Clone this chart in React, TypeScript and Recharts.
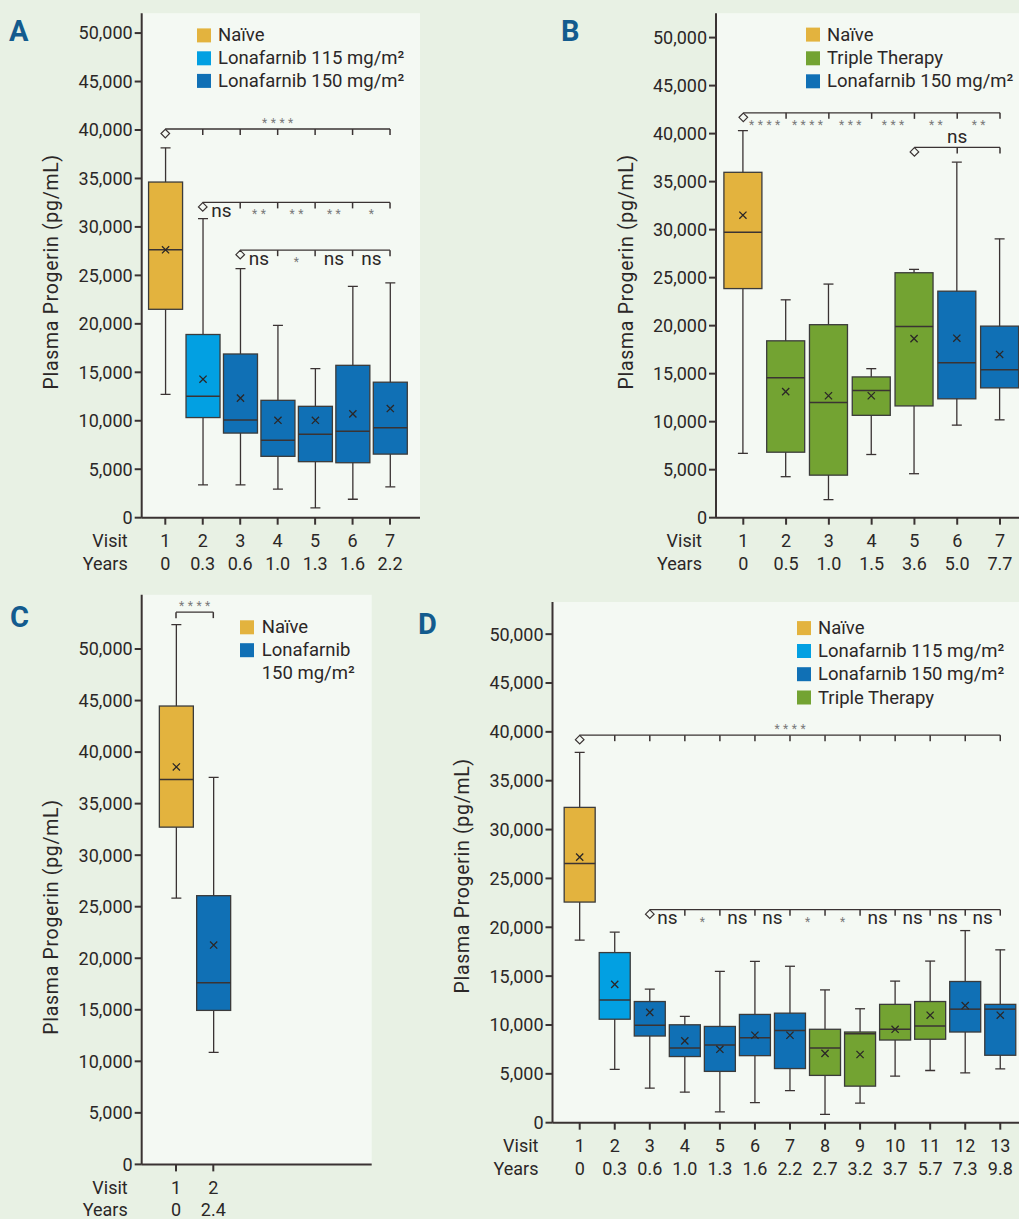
import React from 'react';
import { ComposedChart, Bar, XAxis, YAxis, CartesianGrid, ReferenceLine, ReferenceDot } from 'recharts';

const INK = '#2b2727';
const AXIS = '#3a3333';
const STAR = '#7a7a7a';
const OUTER_BG = '#e8f1e4';
const PLOT_BG = '#f4f9f3';
const LETTER = '#135b8e';
const FONT = 'Roboto, "DejaVu Sans", sans-serif';

type Group = 'naive' | 'l115' | 'l150' | 'triple';

const GROUP_COLORS: Record<Group, string> = {
  naive: '#e3b33e',
  l115: '#02a0e2',
  l150: '#1070b5',
  triple: '#73a332',
};
const GROUP_LABELS: Record<Group, string> = {
  naive: 'Naïve',
  l115: 'Lonafarnib 115 mg/m²',
  l150: 'Lonafarnib 150 mg/m²',
  triple: 'Triple Therapy',
};

const Y_TICKS = [0, 5000, 10000, 15000, 20000, 25000, 30000, 35000, 40000, 45000, 50000];
const Y_LABEL = 'Plasma Progerin (pg/mL)';

// ---------- Panel A ----------
const aVisits = [1, 2, 3, 4, 5, 6, 7];
const aYears = ['0', '0.3', '0.6', '1.0', '1.3', '1.6', '2.2'];
const aGroups: Group[] = ['naive', 'l115', 'l150', 'l150', 'l150', 'l150', 'l150'];
const aMin = [12730, 3380, 3380, 2950, 1010, 1900, 3180];
const aQ1 = [21500, 10330, 8730, 6330, 5780, 5670, 6560];
const aMedian = [27640, 12540, 10090, 8000, 8620, 8930, 9280];
const aQ3 = [34630, 18900, 16890, 12110, 11490, 15720, 13980];
const aMax = [38160, 30860, 25700, 19840, 15370, 23870, 24220];
const aMean = [27640, 14290, 12340, 10050, 10050, 10710, 11260];
const aLegend: Group[] = ['naive', 'l115', 'l150'];
const aBrackets = [
  { from: 1, to: 7, level: 40100, diamond: true, labels: [{ at: 4, text: '****', above: true }] },
  {
    from: 2, to: 7, level: 32530, diamond: true,
    labels: [
      { at: 2.5, text: 'ns', above: false }, { at: 3.5, text: '**', above: false },
      { at: 4.5, text: '**', above: false }, { at: 5.5, text: '**', above: false },
      { at: 6.5, text: '*', above: false },
    ],
  },
  {
    from: 3, to: 7, level: 27600, diamond: true,
    labels: [
      { at: 3.5, text: 'ns', above: false }, { at: 4.5, text: '*', above: false },
      { at: 5.5, text: 'ns', above: false }, { at: 6.5, text: 'ns', above: false },
    ],
  },
];

// ---------- Panel B ----------
const bVisits = [1, 2, 3, 4, 5, 6, 7];
const bYears = ['0', '0.5', '1.0', '1.5', '3.6', '5.0', '7.7'];
const bGroups: Group[] = ['naive', 'triple', 'triple', 'triple', 'triple', 'l150', 'l150'];
const bMin = [6700, 4270, 1880, 6580, 4580, 9640, 10190];
const bQ1 = [23860, 6820, 4430, 10660, 11640, 12380, 13520];
const bMedian = [29740, 14580, 11990, 13240, 19910, 16140, 15400];
const bQ3 = [35970, 18420, 20100, 14660, 25510, 23590, 19950];
const bMax = [40320, 22690, 24330, 15520, 25860, 37030, 29040];
const bMean = [31500, 13130, 12700, 12700, 18650, 18690, 17000];
const bLegend: Group[] = ['naive', 'triple', 'l150'];
const bBrackets = [
  {
    from: 1, to: 7, level: 42160, diamond: true,
    labels: [
      { at: 1.5, text: '****', above: false }, { at: 2.5, text: '****', above: false },
      { at: 3.5, text: '***', above: false }, { at: 4.5, text: '***', above: false },
      { at: 5.5, text: '**', above: false }, { at: 6.5, text: '**', above: false },
    ],
  },
  { from: 5, to: 7, level: 38560, diamond: true, labels: [{ at: 6, text: 'ns', above: true }] },
];

// ---------- Panel C ----------
const cVisits = [1, 2];
const cYears = ['0', '2.4'];
const cGroups: Group[] = ['naive', 'l150'];
const cMin = [25840, 10860];
const cQ1 = [32720, 14940];
const cMedian = [37350, 17630];
const cQ3 = [44470, 26070];
const cMax = [52370, 37550];
const cMean = [38560, 21280];
const cLegend: Group[] = ['naive', 'l150'];
const cLegendLines = [['Naïve'], ['Lonafarnib', '150 mg/m²']];
const cBrackets = [
  { from: 1, to: 2, level: 53580, diamond: false, labels: [{ at: 1.5, text: '****', above: true }] },
];

// ---------- Panel D ----------
const dVisits = [1, 2, 3, 4, 5, 6, 7, 8, 9, 10, 11, 12, 13];
const dYears = ['0', '0.3', '0.6', '1.0', '1.3', '1.6', '2.2', '2.7', '3.2', '3.7', '5.7', '7.3', '9.8'];
const dGroups: Group[] = ['naive', 'l115', 'l150', 'l150', 'l150', 'l150', 'l150', 'triple', 'triple', 'triple', 'triple', 'l150', 'l150'];
const dMin = [18680, 5460, 3530, 3120, 1110, 2050, 3280, 860, 2010, 4760, 5340, 5090, 5500];
const dQ1 = [22580, 10590, 8870, 6770, 5250, 6860, 5540, 4840, 3740, 8460, 8540, 9280, 6900];
const dMedian = [26520, 12560, 9980, 7640, 7960, 8700, 9440, 7640, 9110, 9560, 9890, 11620, 11620];
const dQ3 = [32270, 17410, 12400, 10020, 9850, 11080, 11210, 9560, 9280, 12110, 12400, 14450, 12110];
const dMax = [37890, 19500, 13670, 10880, 15480, 16500, 16010, 13590, 11660, 14490, 16540, 19660, 17690];
const dMean = [27180, 14160, 11290, 8370, 7510, 8950, 8950, 7100, 6980, 9560, 11000, 11990, 11000];
const dLegend: Group[] = ['naive', 'l115', 'l150', 'triple'];
const dBrackets = [
  { from: 1, to: 13, level: 39660, diamond: true, labels: [{ at: 7, text: '****', above: true }] },
  {
    from: 3, to: 13, level: 21800, diamond: true,
    labels: [
      { at: 3.5, text: 'ns', above: false }, { at: 4.5, text: '*', above: false },
      { at: 5.5, text: 'ns', above: false }, { at: 6.5, text: 'ns', above: false },
      { at: 7.5, text: '*', above: false }, { at: 8.5, text: '*', above: false },
      { at: 9.5, text: 'ns', above: false }, { at: 10.5, text: 'ns', above: false },
      { at: 11.5, text: 'ns', above: false }, { at: 12.5, text: 'ns', above: false },
    ],
  },
];

type Row = {
  visit: number; group: Group; lo: number; q1: number; median: number; q3: number; hi: number; mean: number; box: [number, number];
};

const buildRows = (
  visits: number[], groups: Group[], lo: number[], q1: number[], med: number[], q3: number[], hi: number[], mean: number[],
): Row[] =>
  visits.map((v, i) => ({
    visit: v, group: groups[i], lo: lo[i], q1: q1[i], median: med[i], q3: q3[i], hi: hi[i], mean: mean[i], box: [q1[i], q3[i]],
  }));

const fmt = (v: number) => v.toLocaleString('en-US');

const BoxShape = (props: any) => {
  const { x, y, width, height, payload } = props;
  if (!payload || !isFinite(y) || !isFinite(height) || height === 0) return null;
  const top = Math.min(y, y + height);
  const h = Math.abs(height);
  const k = h / (payload.q3 - payload.q1);
  const py = (v: number) => top + (payload.q3 - v) * k;
  const cx = x + width / 2;
  const cap = 5;
  const m = 3.6;
  const yHi = py(payload.hi);
  const yLo = py(payload.lo);
  const yMed = py(payload.median);
  const yMean = py(payload.mean);
  return (
    <g>
      <line x1={cx} x2={cx} y1={yHi} y2={yLo} stroke={AXIS} strokeWidth={1.3} />
      <line x1={cx - cap} x2={cx + cap} y1={yHi} y2={yHi} stroke={AXIS} strokeWidth={1.3} />
      <line x1={cx - cap} x2={cx + cap} y1={yLo} y2={yLo} stroke={AXIS} strokeWidth={1.3} />
      <rect x={x} y={top} width={width} height={h} fill={GROUP_COLORS[payload.group as Group]} stroke="#3b3b3b" strokeWidth={1.3} />
      <line x1={x} x2={x + width} y1={yMed} y2={yMed} stroke={AXIS} strokeWidth={1.5} />
      <path
        d={`M${cx - m},${yMean - m}L${cx + m},${yMean + m}M${cx - m},${yMean + m}L${cx + m},${yMean - m}`}
        stroke={INK}
        strokeWidth={1.3}
        fill="none"
      />
    </g>
  );
};

const makeTick = (years: string[], labelRight: number) => (p: any) => {
  const { x, y, payload, index } = p;
  const i = Math.round(payload.value) - 1;
  const common = { fontSize: 18, fill: INK, fontFamily: FONT, dominantBaseline: 'central' as const };
  return (
    <g>
      <text x={x} y={y + 16} textAnchor="middle" {...common}>{payload.value}</text>
      <text x={x} y={y + 38.5} textAnchor="middle" {...common}>{years[i]}</text>
      {index === 0 ? (
        <g>
          <text x={labelRight} y={y + 16} textAnchor="end" {...common}>Visit</text>
          <text x={labelRight} y={y + 38.5} textAnchor="end" {...common}>Years</text>
        </g>
      ) : null}
    </g>
  );
};

type Bracket = { from: number; to: number; level: number; diamond: boolean; labels: { at: number; text: string; above: boolean }[] };

const renderBrackets = (brackets: Bracket[], prefix: string) => {
  const out: React.ReactElement[] = [];
  brackets.forEach((b, bi) => {
    out.push(
      <ReferenceLine
        key={`${prefix}-l-${bi}`}
        segment={[{ x: b.from, y: b.level }, { x: b.to, y: b.level }]}
        stroke={AXIS}
        strokeWidth={1.3}
      />,
    );
    for (let v = b.from + (b.diamond ? 1 : 0); v <= b.to; v++) {
      out.push(
        <ReferenceDot
          key={`${prefix}-t-${bi}-${v}`}
          x={v}
          y={b.level}
          shape={(p: any) => <line x1={p.cx} x2={p.cx} y1={p.cy} y2={p.cy + 6} stroke={AXIS} strokeWidth={1.5} />}
        />,
      );
    }
    if (b.diamond) {
      out.push(
        <ReferenceDot
          key={`${prefix}-d-${bi}`}
          x={b.from}
          y={b.level}
          shape={(p: any) => {
            const cy = p.cy + 4.5;
            const r = 4.3;
            return (
              <path
                d={`M${p.cx},${cy - r}L${p.cx + r},${cy}L${p.cx},${cy + r}L${p.cx - r},${cy}Z`}
                fill={PLOT_BG}
                stroke={AXIS}
                strokeWidth={1.2}
              />
            );
          }}
        />,
      );
    }
    b.labels.forEach((l, li) => {
      const isStar = l.text.indexOf('*') >= 0;
      out.push(
        <ReferenceDot
          key={`${prefix}-lab-${bi}-${li}`}
          x={l.at}
          y={b.level}
          shape={(p: any) => {
            const center = l.above ? p.cy - 9 : p.cy + 9.5;
            if (isStar) {
              const ls = 3.5;
              return (
                <text x={p.cx + ls / 2} y={center + 6.5} textAnchor="middle" fontSize={12} letterSpacing={ls} fill={STAR} fontFamily={FONT}>
                  {l.text}
                </text>
              );
            }
            return (
              <text x={p.cx} y={center + 5} textAnchor="middle" fontSize={19} fill={INK} fontFamily={FONT}>
                {l.text}
              </text>
            );
          }}
        />,
      );
    });
  });
  return out;
};

type PanelCfg = {
  left: number; top: number; width: number; height: number; mt: number; xh: number; yw: number;
  yMax: number; xDomain: [number, number]; barSize: number; ylx: number; yly: number;
};

const Panel = ({ cfg, rows, visits, years, brackets, id }: { cfg: PanelCfg; rows: Row[]; visits: number[]; years: string[]; brackets: Bracket[]; id: string }) => (
  <div style={{ position: 'absolute', left: cfg.left, top: cfg.top }}>
    <ComposedChart
      width={cfg.width}
      height={cfg.height}
      data={rows}
      margin={{ top: cfg.mt, right: 0, bottom: 0, left: 0 }}
      style={{ fontFamily: FONT }}
    >
      <CartesianGrid fill={PLOT_BG} stroke="none" horizontal={false} vertical={false} />
      <XAxis
        dataKey="visit"
        type="number"
        domain={cfg.xDomain}
        allowDataOverflow
        ticks={visits}
        interval={0}
        height={cfg.xh}
        tickSize={7}
        tickMargin={0}
        axisLine={{ stroke: AXIS, strokeWidth: 2 }}
        tickLine={{ stroke: AXIS, strokeWidth: 2 }}
        tick={makeTick(years, cfg.yw - 14)}
      />
      <YAxis
        type="number"
        domain={[0, cfg.yMax]}
        allowDataOverflow
        ticks={Y_TICKS}
        interval={0}
        width={cfg.yw}
        tickSize={7}
        tickMargin={2}
        tickFormatter={fmt}
        axisLine={{ stroke: AXIS, strokeWidth: 2 }}
        tickLine={{ stroke: AXIS, strokeWidth: 2 }}
        tick={{ fontSize: 18, fill: INK, fontFamily: FONT }}
        label={{
          value: Y_LABEL,
          content: () => (
            <text
              transform={`translate(${cfg.ylx},${cfg.yly}) rotate(-90)`}
              textAnchor="middle"
              dominantBaseline="central"
              fontSize={19.5}
              letterSpacing={0.7}
              fill={INK}
              fontFamily={FONT}
            >
              {Y_LABEL}
            </text>
          ),
        }}
      />
      <Bar dataKey="box" barSize={cfg.barSize} shape={BoxShape} isAnimationActive={false} />
      {renderBrackets(brackets, id)}
    </ComposedChart>
  </div>
);

const cfgA: PanelCfg = { left: 0, top: 0, width: 420, height: 593.7, mt: 13.2, xh: 76, yw: 141.7, yMax: 52050, xDomain: [0.37, 7.8], barSize: 34, ylx: 51.7, yly: 271.8 };
const cfgB: PanelCfg = { left: 560, top: 0, width: 459, height: 593.7, mt: 13.2, xh: 76, yw: 156, yMax: 52540, xDomain: [0.362, 7.444], barSize: 38, ylx: 66.7, yly: 271.8 };
const cfgC: PanelCfg = { left: 0, top: 580, width: 371.7, height: 639, mt: 14.8, xh: 54.6, yw: 141.7, yMax: 55260, xDomain: [0.08, 6.247], barSize: 34, ylx: 51.7, yly: 337 };
const cfgD: PanelCfg = { left: 410, top: 590, width: 609, height: 608.7, mt: 12, xh: 76, yw: 142.5, yMax: 53290, xDomain: [0.224, 13.534], barSize: 31, ylx: 52.4, yly: 285.8 };

const LegendBlock = ({ items, lines, sqX, centers, textX, lineH }: { items: Group[]; lines?: string[][]; sqX: number; centers: number[]; textX: number; lineH: number }) => (
  <g>
    {items.map((g, i) => {
      const txt = lines ? lines[i] : [GROUP_LABELS[g]];
      return (
        <g key={g}>
          <rect x={sqX} y={centers[i] - 7} width={14} height={14} fill={GROUP_COLORS[g]} />
          {txt.map((t, j) => (
            <text key={j} x={textX} y={centers[i] + j * lineH} dominantBaseline="central" fontSize={18.5} fill={INK} fontFamily={FONT}>
              {t}
            </text>
          ))}
        </g>
      );
    })}
  </g>
);

export default function App() {
  const rowsA = buildRows(aVisits, aGroups, aMin, aQ1, aMedian, aQ3, aMax, aMean);
  const rowsB = buildRows(bVisits, bGroups, bMin, bQ1, bMedian, bQ3, bMax, bMean);
  const rowsC = buildRows(cVisits, cGroups, cMin, cQ1, cMedian, cQ3, cMax, cMean);
  const rowsD = buildRows(dVisits, dGroups, dMin, dQ1, dMedian, dQ3, dMax, dMean);
  return (
    <div style={{ position: 'absolute', left: 0, top: 0, width: 1019, height: 1219, background: OUTER_BG, overflow: 'hidden', fontFamily: FONT }}>
      <Panel cfg={cfgA} rows={rowsA} visits={aVisits} years={aYears} brackets={aBrackets} id="a" />
      <Panel cfg={cfgB} rows={rowsB} visits={bVisits} years={bYears} brackets={bBrackets} id="b" />
      <Panel cfg={cfgC} rows={rowsC} visits={cVisits} years={cYears} brackets={cBrackets} id="c" />
      <Panel cfg={cfgD} rows={rowsD} visits={dVisits} years={dYears} brackets={dBrackets} id="d" />
      <svg width={1019} height={1219} style={{ position: 'absolute', left: 0, top: 0, pointerEvents: 'none' }}>
        <g fontFamily={FONT} fontWeight="bold" fontSize={29} fill={LETTER}>
          <text x={9} y={41.4}>A</text>
          <text x={561} y={41.4}>B</text>
          <text x={10} y={627}>C</text>
          <text x={418} y={634}>D</text>
        </g>
        <LegendBlock items={aLegend} sqX={197} centers={[35.4, 58.3, 80.9]} textX={218} lineH={22.8} />
        <LegendBlock items={bLegend} sqX={806} centers={[34.6, 58.3, 81.3]} textX={827} lineH={23} />
        <LegendBlock items={cLegend} lines={cLegendLines} sqX={240} centers={[627.3, 650.2]} textX={261.7} lineH={22.9} />
        <LegendBlock items={dLegend} sqX={797} centers={[628.1, 651, 674.2, 697.5]} textX={818} lineH={23.1} />
      </svg>
    </div>
  );
}
